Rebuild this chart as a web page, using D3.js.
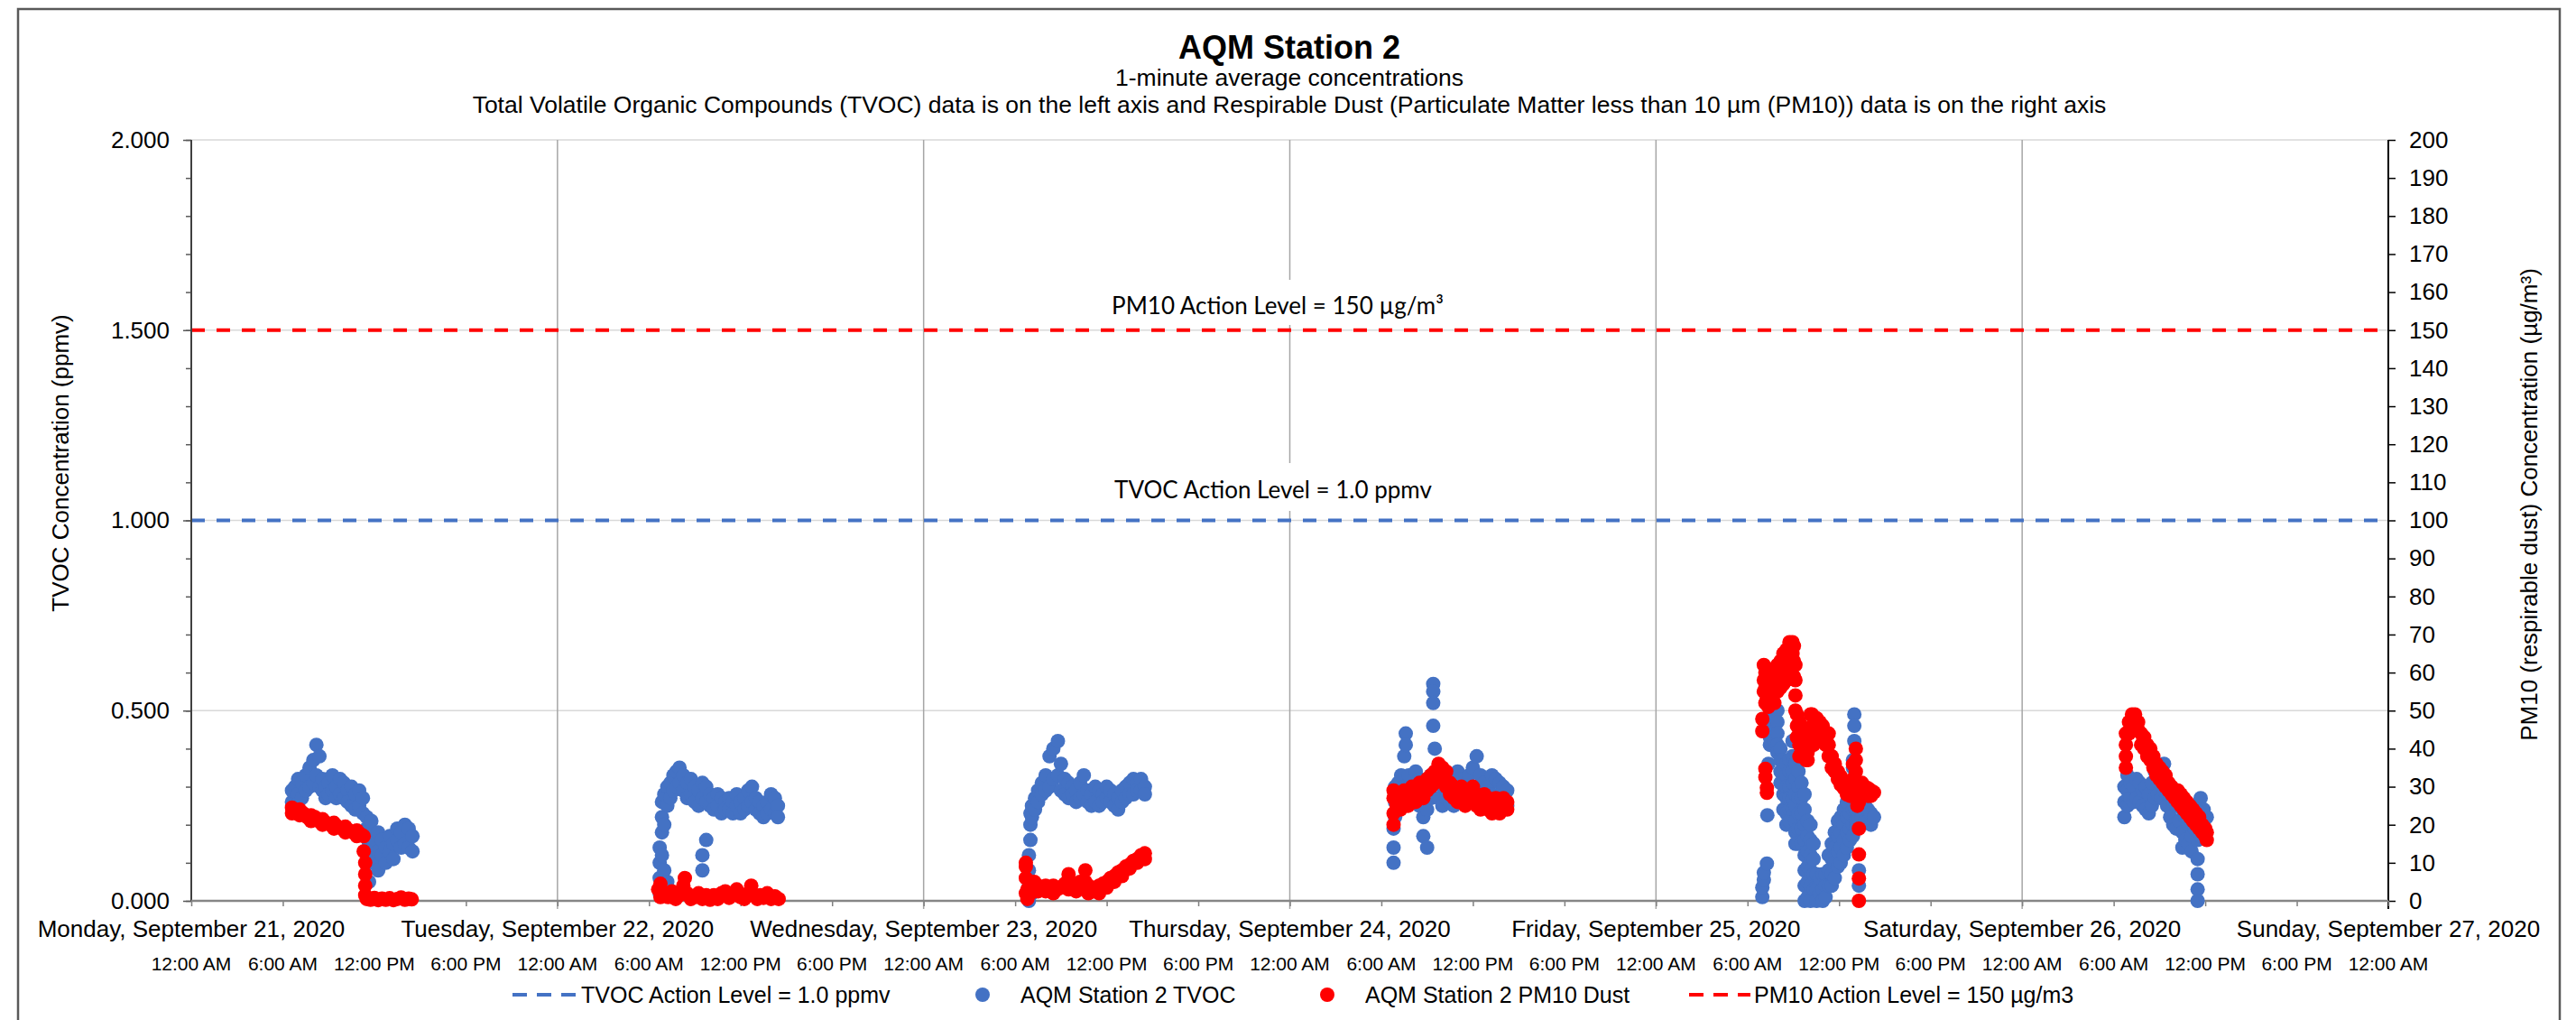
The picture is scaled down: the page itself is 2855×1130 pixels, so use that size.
<!DOCTYPE html>
<html><head><meta charset="utf-8">
<script src="https://cdn.jsdelivr.net/npm/d3@7"></script>
<style>
body{margin:0;background:#fff}
svg{display:block}
text{font-family:"Liberation Sans",Arial,Helvetica,sans-serif;fill:#000}
</style>
</head><body><svg id="chart" width="2855" height="1130"></svg>
<script>
// ---------------- DATA ----------------
const titleText = "AQM Station 2";
const subtitle1 = "1-minute average concentrations";
const subtitle2 = "Total Volatile Organic Compounds (TVOC) data is on the left axis and Respirable Dust (Particulate Matter less than 10 µm (PM10)) data is on the right axis";
const leftAxisTitle = "TVOC Concentration (ppmv)";
const rightAxisTitle = "PM10 (respirable dust) Concentration (µg/m³)";
const dayCategories = ["2020-09-21","2020-09-22","2020-09-23","2020-09-24","2020-09-25","2020-09-26","2020-09-27"];
const leftTicks = [0, 0.5, 1.0, 1.5, 2.0];
const rightTicks = [0,10,20,30,40,50,60,70,80,90,100,110,120,130,140,150,160,170,180,190,200];
const tvocActionLevel = 1.0;
const pm10ActionLevel = 150;
const legendLabels = ["TVOC Action Level = 1.0 ppmv","AQM Station 2 TVOC","AQM Station 2 PM10 Dust","PM10 Action Level = 150 µg/m3"];

// rows: [hour of day, value, value, ...]  (TVOC ppmv)
const tvocSep21 = [[6.6,.26,.29],[6.8,.30,.25],[7.0,.28,.32],[7.25,.31,.27],[7.5,.33,.29],[7.75,.30,.35],[8.0,.37,.31],[8.2,.41,.33],[8.4,.38,.30],[8.6,.32,.29],[8.8,.30,.27],[9.0,.31,.28],[9.25,.33,.29],[9.5,.30,.27],[9.75,.32,.28],[10.0,.31,.27],[10.25,.29,.26],[10.5,.30,.25],[10.75,.28,.24],[11.0,.29,.25],[11.25,.27,.23],[11.5,.22,.19],[11.65,.10,.05,.15],[11.8,.17,.12,.21],[12.0,.15,.10],[12.25,.13,.18,.08],[12.5,.12,.16],[12.75,.14,.10],[13.0,.13,.17],[13.25,.11,.15],[13.5,.16,.19],[13.75,.18,.14],[14.0,.20,.15],[14.25,.19,.14],[14.5,.17,.13]];
const tvocSep22 = [[6.7,.02,.06,.10,.14],[6.85,.18,.22,.26,.12],[7.0,.20,.28,.08],[7.2,.25,.30,.05],[7.4,.27,.31],[7.6,.29,.33],[7.8,.30,.34],[8.0,.35,.31],[8.25,.33,.29],[8.5,.31,.27],[8.75,.32,.28],[9.0,.30,.26],[9.25,.29,.25],[9.5,.31,.27,.08,.12],[9.75,.30,.26,.16],[10.0,.28,.25],[10.25,.27,.24],[10.5,.28,.25],[10.75,.27,.23],[11.0,.26,.24],[11.25,.27,.24],[11.5,.26,.23],[11.75,.25,.28],[12.0,.26,.23],[12.25,.27,.24],[12.5,.29,.25],[12.75,.30,.26],[13.0,.27,.24],[13.25,.26,.23],[13.5,.25,.22],[13.75,.26,.23],[14.0,.28,.24],[14.25,.27,.23],[14.45,.25,.22]];
const tvocSep23 = [[6.9,0,.04,.08,.12],[7.0,.16,.20,.23],[7.1,.22,.25,.05,.02],[7.3,.24,.27],[7.5,.26,.29],[7.75,.28,.31],[8.0,.33,.29],[8.25,.38,.30],[8.5,.40,.32],[8.8,.42,.33],[9.0,.36,.29],[9.25,.32,.28],[9.5,.31,.27],[9.75,.30,.28],[10.0,.29,.26],[10.25,.31,.27],[10.5,.33,.28],[10.75,.29,.26],[11.0,.28,.25],[11.25,.30,.26],[11.5,.29,.25],[11.75,.28,.26],[12.0,.30,.27],[12.25,.29,.26],[12.5,.28,.25],[12.75,.27,.24],[13.0,.29,.26],[13.25,.30,.27],[13.5,.31,.28],[13.75,.32,.28],[14.0,.31,.29],[14.25,.32,.29],[14.5,.30,.28]];
const tvocSep24 = [[6.8,.10,.14,.19],[6.9,.22,.26,.30],[7.1,.27,.31],[7.3,.29,.33],[7.5,.38,.30],[7.6,.44,.41],[7.8,.33,.28],[8.0,.30,.26],[8.25,.34,.28],[8.5,.32,.25],[8.75,.27,.22,.17],[9.0,.29,.24,.14],[9.25,.33,.27],[9.4,.57,.55,.52,.46],[9.5,.40,.31],[9.75,.32,.27],[10.0,.30,.25],[10.25,.33,.27],[10.5,.31,.26],[10.75,.30,.25],[11.0,.34,.28],[11.25,.32,.27],[11.5,.30,.26],[11.75,.33,.27],[12.0,.35,.29],[12.25,.38,.30],[12.5,.33,.28],[12.75,.31,.27],[13.0,.30,.25],[13.25,.33,.28],[13.5,.32,.27],[13.75,.31,.26],[14.0,.30,.26],[14.25,.29,.25]];
const tvocSep25 = [[6.97,.01,.035],[7.07,.055,.074],[7.27,.098],[7.3,.225],[7.37,.36],[7.47,.49,.46,.43,.41],[7.6,.50,.47,.44],[7.76,.48,.45,.42],[7.96,.50,.47,.44,.41,.39],[8.16,.40,.37,.34,.31],[8.35,.37,.34,.31,.28,.24],[8.55,.36,.33,.30,.27,.23,.20],[8.75,.37,.34,.30,.27,.24,.21],[8.95,.42,.38,.34,.31,.27,.24],[9.14,.36,.32,.28,.25,.21,.18,.15],[9.34,.34,.30,.27,.23,.19,.15],[9.54,.31,.27,.23,.19,.15],[9.74,.28,.24,.20,.16,.12,.08,.04,0],[9.94,.21,.17,.13,.09,.05,.01],[10.13,.20,.16,.12,.08,.04,0],[10.33,.15,.11,.07,.03],[10.53,.07,.03,0],[10.73,.06,.02],[10.93,.07,.03,0],[11.12,.07,.04,.01],[11.32,.12,.08,.04],[11.52,.15,.11,.07,.04],[11.72,.18,.14,.10,.06],[11.92,.21,.17,.13,.09],[12.11,.22,.18,.14,.10],[12.31,.24,.20,.16,.12],[12.51,.26,.22,.18,.14],[12.71,.27,.23,.19,.16],[12.91,.28,.24,.20,.17,.37,.35],[13.0,.49,.46,.42],[13.1,.27,.24,.21,.19],[13.3,.25,.22,.08,.04],[13.5,.25,.22],[13.7,.25,.21],[13.89,.24,.21],[14.09,.23,.20],[14.29,.22]];
const tvocSep26 = [[6.7,.22,.26,.30],[6.9,.25,.29,.33],[7.1,.27,.31],[7.3,.30,.26],[7.5,.32,.27],[7.7,.31,.26],[7.9,.29,.25],[8.1,.30,.24],[8.3,.28,.23],[8.5,.31,.25],[8.7,.34,.27],[8.9,.33,.28],[9.1,.33,.27],[9.3,.36,.29],[9.5,.31,.25],[9.7,.28,.22],[9.9,.26,.20],[10.1,.25,.19],[10.3,.27,.21],[10.5,.24,.18,.14],[10.7,.22,.16],[10.9,.20,.15],[11.1,.22,.17,.13],[11.3,.25,.19],[11.5,.16,.11,.07,.03,0],[11.7,.21,.27,.17],[11.9,.24,.19],[12.1,.22]];

// rows: [hour of day, value, value, ...]  (PM10 µg/m³)
const pmSep21 = [[6.6,23,24.5],[6.85,23.5],[7.1,22.5,24],[7.35,23],[7.6,22],[7.85,22.5,21],[8.1,22],[8.35,21],[8.6,21.5,20],[8.85,20.5],[9.1,20],[9.35,20.5,19],[9.6,19.5],[9.85,19],[10.1,19.5,18],[10.35,18.5],[10.6,18],[10.85,18.5,17],[11.1,17.5],[11.3,17,13],[11.4,10,7,4,1.5],[11.5,0.5],[11.75,0.3],[12.0,0.8],[12.25,0.2],[12.5,0.6],[12.75,0.3],[13.0,0.7],[13.25,0.2],[13.5,0.5],[13.75,0.9],[14.0,0.3],[14.25,0.6],[14.45,0.4]];
const pmSep22 = [[6.6,3],[6.75,1,4.5],[7.0,2],[7.25,1],[7.5,2.5],[7.75,0.5],[8.0,1.5],[8.25,4],[8.35,6],[8.5,2],[8.75,0.5],[9.0,1],[9.25,2],[9.5,0.5],[9.75,1.5],[10.0,0.3],[10.25,1.5],[10.5,0.5],[10.75,2],[11.0,2.5],[11.25,0.8],[11.5,1.5],[11.75,3],[12.0,1],[12.25,0.5],[12.5,2],[12.7,4],[12.9,1.5],[13.1,0.5],[13.3,1.5],[13.5,0.8],[13.75,2],[14.0,0.5],[14.25,1.2],[14.5,0.5]];
const pmSep23 = [[6.7,2,6,9,10],[6.8,0.5,3],[7.0,4,2],[7.25,3,5],[7.5,4,2.5],[7.75,3.5],[8.0,2.5,4],[8.25,3],[8.5,4,2],[8.75,3],[9.0,3.5],[9.25,4.5],[9.5,7,5,3],[9.75,3],[10.0,2.5,4],[10.25,5],[10.6,8,5],[10.8,4,2],[11.0,2.5],[11.25,3],[11.5,4,2],[11.75,4.5],[12.0,5,3.5],[12.25,6],[12.5,6.5,5],[12.75,7.5],[13.0,8,6.5],[13.25,9],[13.5,9.5,8.5],[13.75,10.5],[14.0,11,10],[14.25,12],[14.5,12.5,11]];
const pmSep24 = [[6.8,20,23,27,29],[7.0,25,28],[7.25,24,27],[7.5,26,29],[7.75,25,28],[8.0,27,30],[8.25,26,29],[8.5,28,31],[8.75,27,30],[9.0,29,32],[9.25,30,33],[9.5,31,34],[9.75,33,36],[10.0,35,32],[10.25,34,30],[10.5,31,28],[10.75,30,27],[11.0,29,26],[11.25,30,27],[11.5,28,25],[11.75,29,26],[12.0,30,27],[12.25,28,25],[12.5,27,24],[12.75,28,25],[13.0,27,24],[13.25,26,23],[13.5,27,24],[13.75,26,23],[14.0,25,27],[14.25,24,26]];
const pmSep25 = [[6.97,47.8,44.6],[7.07,62,58,55],[7.17,60,56,52,34.7,32.5],[7.27,61,57,53,29.7,28.4],[7.37,58,54,51],[7.47,55,52],[7.6,57,53],[7.76,59,55,52],[7.96,62,58,55],[8.16,63,59,56],[8.35,65,61,57],[8.55,66,62,58],[8.75,68,64,61],[8.95,68,65,62],[9.04,67,63,59],[9.14,62,58,54,50],[9.24,49,46,43],[9.4,47,44,41,38],[9.54,45,42,39],[9.74,44,41,38],[9.84,43,40,37],[9.94,42,39,37],[10.13,49,45,41],[10.23,49,46,42],[10.33,48,44,41],[10.53,48,45],[10.73,47,44],[10.93,46,43],[11.12,44,41],[11.32,44,41,38],[11.52,38,35],[11.72,36,34],[11.92,34,32],[12.11,32.7,30.5],[12.31,31,29.6],[12.51,29.6,28],[12.71,28.5,27.6],[12.91,35.9,32,28],[13.1,40,37,34],[13.2,31,28,25],[13.3,30,26,19,12.2,5.9,0],[13.5,31,28],[13.7,30,28],[13.89,29.6,27.6],[14.09,29,27.6],[14.29,28.5]];
const pmSep26 = [[6.8,38,41,44,35],[7.0,44,47],[7.2,46,49],[7.4,47,49],[7.6,45,47],[7.8,44,41],[8.0,43,40],[8.2,41,38],[8.4,40,37],[8.6,38,35],[8.8,36,33],[9.0,35,32],[9.2,34,31],[9.4,33,30],[9.6,31,29],[9.8,30,28],[10.0,29,27],[10.2,29,26],[10.4,28,25],[10.6,27,24],[10.8,26,23],[11.0,25,22],[11.2,24,21],[11.4,23,20],[11.6,22,19],[11.8,20,18],[12.0,19,17],[12.1,18,16]];

const tvocByDay = [tvocSep21, tvocSep22, tvocSep23, tvocSep24, tvocSep25, tvocSep26];
const pmByDay = [pmSep21, pmSep22, pmSep23, pmSep24, pmSep25, pmSep26];

// ---------------- CHART ----------------
const svg = d3.select("#chart");
const M = {l:212, r:2647, t:155, b:998};
const BLUE = "#4472C4", RED = "#FF0000";
const base = Date.UTC(2020, 8, 21);
const toDate = (day, h) => new Date(base + (day*24 + h) * 3600e3);

const x = d3.scaleUtc().domain([new Date(base), toDate(6, 0)]).range([M.l, M.r]);
const yL = d3.scaleLinear().domain([0, 2]).range([M.b, M.t]);
const yR = d3.scaleLinear().domain([0, 200]).range([M.b, M.t]);

function flatten(byDay){
  return byDay.flatMap((rows, day) => rows.flatMap(r => r.slice(1).map(v => ({t: toDate(day, r[0]), v}))));
}
const tvocPts = flatten(tvocByDay);
const pmPts = flatten(pmByDay);

svg.append("rect").attr("width", 2855).attr("height", 1130).attr("fill", "#fff");
// outer chart border
svg.append("rect").attr("x", 20).attr("y", 10).attr("width", 2817).attr("height", 1140)
  .attr("fill", "none").attr("stroke", "#595959").attr("stroke-width", 2.5);

// titles
svg.append("text").attr("x", 1429).attr("y", 65).attr("text-anchor", "middle")
  .style("font-size", "36px").style("font-weight", "bold").text(titleText);
svg.append("text").attr("x", 1429).attr("y", 95).attr("text-anchor", "middle")
  .style("font-size", "26.5px").text(subtitle1);
svg.append("text").attr("x", 1429).attr("y", 125).attr("text-anchor", "middle")
  .style("font-size", "26.5px").text(subtitle2);

// horizontal gridlines
svg.append("g").selectAll("line").data(leftTicks.filter(d => d > 0)).join("line")
  .attr("x1", M.l).attr("x2", M.r).attr("y1", d => yL(d)).attr("y2", d => yL(d))
  .attr("stroke", "#d9d9d9").attr("stroke-width", 1.5);

// vertical day gridlines
const dayDates = dayCategories.map(s => new Date(s + "T00:00:00Z"));
svg.append("g").selectAll("line").data(dayDates.slice(1, 6)).join("line")
  .attr("x1", d => x(d)).attr("x2", d => x(d)).attr("y1", M.t).attr("y2", M.b + 9)
  .attr("stroke", "#a6a6a6").attr("stroke-width", 1.5);

// action level lines
svg.append("line").attr("x1", M.l).attr("x2", M.r).attr("y1", yR(pm10ActionLevel)).attr("y2", yR(pm10ActionLevel))
  .attr("stroke", RED).attr("stroke-width", 4).attr("stroke-dasharray", "15,13");
svg.append("line").attr("x1", M.l).attr("x2", M.r).attr("y1", yL(tvocActionLevel)).attr("y2", yL(tvocActionLevel))
  .attr("stroke", BLUE).attr("stroke-width", 4).attr("stroke-dasharray", "15,13");

// action level labels with white boxes
function boxLabel(txt, cx, baseline, top, bottom){
  const g = svg.append("g");
  const r = g.append("rect").attr("fill", "#fff");
  const t = g.append("text").attr("x", cx).attr("y", baseline).attr("text-anchor", "middle")
    .style("font-family", "Lato, 'Open Sans', sans-serif").style("font-size", "26px").text(txt);
  const w = t.node().getComputedTextLength();
  r.attr("x", cx - w/2 - 12).attr("y", top).attr("width", w + 24).attr("height", bottom - top);
}
boxLabel("PM10 Action Level = 150 µg/m³", 1416, 348, 310, 360);
boxLabel("TVOC Action Level = 1.0 ppmv", 1411, 552, 513, 566);

// left axis
const gl = svg.append("g").attr("transform", `translate(${M.l},0)`);
gl.call(d3.axisLeft(yL).tickValues(d3.range(0, 2.0001, 0.1)).tickSize(6).tickSizeOuter(0).tickFormat(""));
gl.call(g => g.selectAll(".tick line").attr("stroke", "#595959").attr("stroke-width", 1.5));
const glm = svg.append("g").attr("transform", `translate(${M.l},0)`)
  .call(d3.axisLeft(yL).tickValues(leftTicks).tickSize(9).tickSizeOuter(0).tickPadding(15).tickFormat(d3.format(".3f")));
glm.selectAll(".tick line").attr("stroke", "#595959").attr("stroke-width", 1.5);
glm.selectAll(".tick text").style("font-size", "26px").style("font-family", "'Liberation Sans', Arial, sans-serif").attr("fill", "#000");
svg.selectAll(".domain").remove();
svg.append("line").attr("x1", M.l).attr("x2", M.l).attr("y1", M.t).attr("y2", M.b)
  .attr("stroke", "#404040").attr("stroke-width", 2);

// right axis
const gr = svg.append("g").attr("transform", `translate(${M.r},0)`)
  .call(d3.axisRight(yR).tickValues(rightTicks).tickSize(8).tickSizeOuter(0).tickPadding(15));
gr.select(".domain").remove();
gr.selectAll(".tick line").attr("stroke", "#000").attr("stroke-width", 1.5);
gr.selectAll(".tick text").style("font-size", "26px").style("font-family", "'Liberation Sans', Arial, sans-serif").attr("fill", "#000");
svg.append("line").attr("x1", M.r).attr("x2", M.r).attr("y1", M.t).attr("y2", M.b + 9)
  .attr("stroke", "#000").attr("stroke-width", 2);

// bottom axis
const gb = svg.append("g").attr("transform", `translate(0,${M.b})`)
  .call(d3.axisBottom(x).ticks(d3.utcHour.every(6)).tickSize(6).tickSizeOuter(0).tickFormat(""));
gb.select(".domain").remove();
gb.selectAll(".tick line").attr("stroke", "#7f7f7f").attr("stroke-width", 1.5);
svg.append("line").attr("x1", M.l).attr("x2", M.r).attr("y1", M.b).attr("y2", M.b)
  .attr("stroke", "#868686").attr("stroke-width", 2.5);

// date labels
const fmtDay = d3.utcFormat("%A, %B %-d, %Y");
svg.append("g").selectAll("text").data(dayDates).join("text")
  .attr("x", d => x(d)).attr("y", 1038).attr("text-anchor", "middle")
  .style("font-size", "26px").text(d => fmtDay(d));
// time labels
const fmtTime = d3.utcFormat("%-I:%M %p");
svg.append("g").selectAll("text").data(x.ticks(d3.utcHour.every(6))).join("text")
  .attr("x", d => x(d)).attr("y", 1075).attr("text-anchor", "middle")
  .style("font-size", "21px").text(d => fmtTime(d));

// axis titles
svg.append("text").attr("transform", "translate(67,513) rotate(-90)").attr("text-anchor", "middle")
  .attr("dominant-baseline", "central").style("font-size", "26px").text(leftAxisTitle);
svg.append("text").attr("transform", "translate(2803,559) rotate(-90)").attr("text-anchor", "middle")
  .attr("dominant-baseline", "central").style("font-size", "26px").text(rightAxisTitle);

// data points
svg.append("g").selectAll("circle").data(tvocPts).join("circle")
  .attr("cx", d => x(d.t)).attr("cy", d => yL(d.v)).attr("r", 8).attr("fill", BLUE);
svg.append("g").selectAll("circle").data(pmPts).join("circle")
  .attr("cx", d => x(d.t)).attr("cy", d => yR(d.v)).attr("r", 8).attr("fill", RED);

// legend
const LY = 1102;
const lg = svg.append("g");
lg.append("line").attr("x1", 568).attr("x2", 638).attr("y1", LY).attr("y2", LY)
  .attr("stroke", BLUE).attr("stroke-width", 4).attr("stroke-dasharray", "16,11");
lg.append("text").attr("x", 644).attr("y", LY).attr("dominant-baseline", "central").style("font-size", "25px").text(legendLabels[0]);
lg.append("circle").attr("cx", 1089).attr("cy", LY).attr("r", 8).attr("fill", BLUE);
lg.append("text").attr("x", 1131).attr("y", LY).attr("dominant-baseline", "central").style("font-size", "25px").text(legendLabels[1]);
lg.append("circle").attr("cx", 1471).attr("cy", LY).attr("r", 8).attr("fill", RED);
lg.append("text").attr("x", 1513).attr("y", LY).attr("dominant-baseline", "central").style("font-size", "25px").text(legendLabels[2]);
lg.append("line").attr("x1", 1872).attr("x2", 1940).attr("y1", LY).attr("y2", LY)
  .attr("stroke", RED).attr("stroke-width", 4).attr("stroke-dasharray", "16,11");
lg.append("text").attr("x", 1944).attr("y", LY).attr("dominant-baseline", "central").style("font-size", "25px").text(legendLabels[3]);
</script>
</body></html>
